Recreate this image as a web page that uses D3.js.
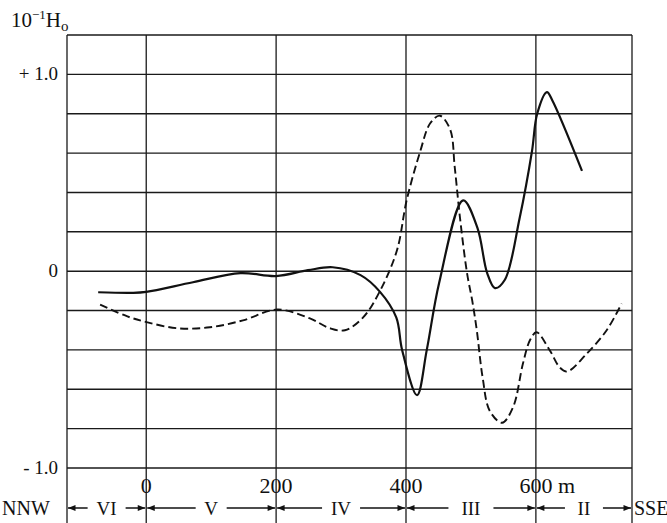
<!DOCTYPE html>
<html>
<head>
<meta charset="utf-8">
<script src="https://cdn.jsdelivr.net/npm/d3@7"></script>
<style>
  body { margin: 0; background: #fff; }
  text { font-family: "Liberation Serif", "Times New Roman", Times, serif; fill: #111; }
</style>
</head>
<body>
<div id="chart"></div>
<script>
// distance along profile (m) and field value (10^-1 Ho)
const solidDist = [-74, -22, 0, 72, 145, 200, 249, 287, 330, 360, 385, 394, 417, 432, 451, 488, 510, 525, 537, 552, 575, 594, 602, 617, 625, 671];
const solidVal  = [-0.107, -0.11, -0.105, -0.056, -0.01, -0.025, 0.005, 0.02, -0.02, -0.105, -0.235, -0.4, -0.63, -0.4, -0.06, 0.36, 0.22, -0.01, -0.086, -0.045, 0.27, 0.61, 0.8, 0.91, 0.87, 0.51];

const dashDist = [-71, -29, 2, 48, 98, 149, 202, 252, 283, 306, 334, 360, 386, 401, 422, 437, 452, 468, 475, 483, 494, 502, 509, 518, 529, 548, 565, 580, 591, 601, 621, 637, 648, 678, 709, 732];
const dashVal  = [-0.17, -0.23, -0.26, -0.29, -0.285, -0.25, -0.195, -0.24, -0.29, -0.30, -0.235, -0.1, 0.105, 0.36, 0.61, 0.75, 0.79, 0.72, 0.53, 0.275, -0.01, -0.15, -0.3, -0.54, -0.71, -0.77, -0.69, -0.47, -0.35, -0.31, -0.4, -0.49, -0.51, -0.42, -0.3, -0.165];

const xTicks = [0, 200, 400, 600];
const xTickLabels = ["0", "200", "400", "600 m"];
const yGrid = [-1.0, -0.8, -0.6, -0.4, -0.2, 0, 0.2, 0.4, 0.6, 0.8, 1.0, 1.2];
const yTicks = [1.0, 0, -1.0];
const yTickLabels = ["+ 1.0", "0", "- 1.0"];
const zoneEdges = [-122, 0, 200, 400, 600, 748];
const zoneNames = ["VI", "V", "IV", "III", "II"];

const width = 667, height = 523;
const svg = d3.select("#chart").append("svg")
    .attr("width", width)
    .attr("height", height);

const x = d3.scaleLinear().domain([-122, 748]).range([67, 632]);
const y = d3.scaleLinear().domain([-1.0, 1.2]).range([468, 35]);

// grid
svg.append("g").selectAll("line").data(yGrid).enter()
    .append("line")
    .attr("x1", x(-122)).attr("x2", x(748))
    .attr("y1", d => y(d)).attr("y2", d => y(d))
    .attr("stroke", "#1a1a1a").attr("stroke-width", 1.4);

svg.append("g").selectAll("line").data(zoneEdges).enter()
    .append("line")
    .attr("x1", d => x(d)).attr("x2", d => x(d))
    .attr("y1", y(1.2)).attr("y2", 523)
    .attr("stroke", "#1a1a1a").attr("stroke-width", 1.3);

// y labels
svg.append("g").selectAll("text").data(yTicks).enter()
    .append("text")
    .attr("x", 58).attr("y", d => y(d) + 6)
    .attr("text-anchor", "end")
    .attr("font-size", 19)
    .text((d, i) => yTickLabels[i]);

// x labels
svg.append("g").selectAll("text").data(xTicks).enter()
    .append("text")
    .attr("x", d => x(d) - (d === 600 ? 16.5 : 0))
    .attr("y", 493)
    .attr("text-anchor", d => d === 600 ? "start" : "middle")
    .attr("font-size", 22)
    .text((d, i) => xTickLabels[i]);

// title
const title = svg.append("text").attr("x", 11).attr("y", 27).attr("font-size", 21);
title.append("tspan").text("10");
title.append("tspan").attr("dy", -8).attr("font-size", 13).text("\u22121");
title.append("tspan").attr("dy", 8).text("H");
title.append("tspan").attr("dy", 4).attr("font-size", 15).text("o");

// zone arrows
const defs = svg.append("defs");
defs.append("marker").attr("id", "ah")
    .attr("viewBox", "0 0 10 10").attr("refX", 10).attr("refY", 5)
    .attr("markerWidth", 7).attr("markerHeight", 5).attr("orient", "auto")
    .append("path").attr("d", "M0,1 L10,5 L0,9 Z").attr("fill", "#111");

const arrowY = 508;
const zones = svg.append("g");
zoneNames.forEach((name, i) => {
    const a = x(zoneEdges[i]), b = x(zoneEdges[i + 1]);
    const c = (a + b) / 2;
    const half = 4 + name.length * 3.5;
    zones.append("line")
        .attr("x1", c - half - 8).attr("x2", a + 1)
        .attr("y1", arrowY).attr("y2", arrowY)
        .attr("stroke", "#111").attr("stroke-width", 1.5)
        .attr("marker-end", "url(#ah)");
    zones.append("line")
        .attr("x1", c + half + 8).attr("x2", b - 1)
        .attr("y1", arrowY).attr("y2", arrowY)
        .attr("stroke", "#111").attr("stroke-width", 1.5)
        .attr("marker-end", "url(#ah)");
    zones.append("text")
        .attr("x", c).attr("y", arrowY + 7)
        .attr("text-anchor", "middle")
        .attr("font-size", 19)
        .text(name);
});

svg.append("text").attr("x", 2).attr("y", arrowY + 7).attr("font-size", 20).text("NNW");
svg.append("text").attr("x", 634).attr("y", arrowY + 7).attr("font-size", 20).text("SSE");

// curves
const line = d3.line()
    .x(d => x(d[0]))
    .y(d => y(d[1]))
    .curve(d3.curveCatmullRom.alpha(0.5));

svg.append("path")
    .datum(solidDist.map((d, i) => [d, solidVal[i]]))
    .attr("d", line)
    .attr("fill", "none")
    .attr("stroke", "#111")
    .attr("stroke-width", 2.2);

svg.append("path")
    .datum(dashDist.map((d, i) => [d, dashVal[i]]))
    .attr("d", line)
    .attr("fill", "none")
    .attr("stroke", "#111")
    .attr("stroke-width", 1.9)
    .attr("stroke-dasharray", "8,4");
</script>
</body>
</html>
